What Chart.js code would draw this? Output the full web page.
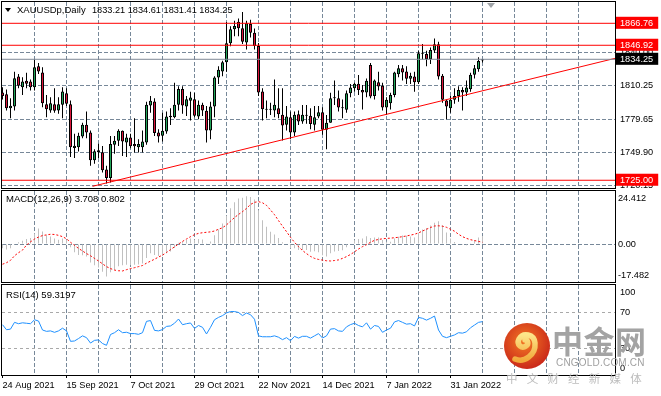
<!DOCTYPE html>
<html><head><meta charset="utf-8"><title>XAUUSDp Daily</title>
<script src="https://cdn.jsdelivr.net/npm/chart.js@4.4.1/dist/chart.umd.min.js"></script>
<style>
html,body{margin:0;padding:0;background:#fff}
#wrap{position:relative;width:661px;height:396px;overflow:hidden;background:#fff;font-family:"Liberation Sans",Arial,sans-serif}
canvas{position:absolute;left:0}
.lbl{position:absolute;white-space:nowrap;color:#000;font-size:9.5px;line-height:12px}
.wm{position:absolute;white-space:nowrap;font-family:"Noto Sans CJK SC","Liberation Sans",sans-serif}
</style></head><body><div id="wrap">
<canvas id="cMain" width="661" height="190" style="top:0"></canvas>
<canvas id="cMacd" width="661" height="95" style="top:189px"></canvas>
<canvas id="cRsi" width="661" height="114" style="top:282px"></canvas>
<div style="position:absolute;left:5px;top:8px;width:0;height:0;border-left:3px solid transparent;border-right:3px solid transparent;border-top:4px solid #000"></div>
<div class="lbl" style="left:17px;top:4px">XAUUSDp,Daily</div>
<div class="lbl" id="ohlcTxt" style="left:92px;top:4px;font-size:9.2px"></div>
<div class="lbl" id="macdTxt" style="left:6px;top:193px"></div>
<div class="lbl" id="rsiTxt" style="left:6px;top:289px"></div>
<div style="position:absolute;left:487px;top:3px;width:0;height:0;border-left:4px solid transparent;border-right:4px solid transparent;border-top:5px solid #a0a4a8"></div>
<svg style="position:absolute;left:503px;top:322px" width="48" height="48" viewBox="0 0 48 48">
<defs><radialGradient id="g" cx="45%" cy="40%" r="62%"><stop offset="0" stop-color="#f47a24"/><stop offset="1" stop-color="#c92619"/></radialGradient>
<linearGradient id="yy" x1="0" y1="0" x2="0" y2="1"><stop offset="0" stop-color="#fde68a"/><stop offset="1" stop-color="#f2a93b"/></linearGradient></defs>
<circle cx="24" cy="24" r="23" fill="url(#g)"/>
<path d="M12 37 C 21 41, 33 33, 32 21 C 31 12, 20 10, 16 17 C 13 23, 19 27, 23 24 C 26 22, 25 18, 22 18" fill="none" stroke="url(#yy)" stroke-width="5.5" stroke-linecap="round"/>
</svg>
<div class="wm" style="left:552px;top:322px;font-size:31px;line-height:36px;font-weight:bold;color:#a3a3a3;letter-spacing:0.5px">中金网</div>
<div class="wm" style="left:556px;top:357px;font-size:10px;line-height:12px;color:#a0a0a0;font-family:'Liberation Sans',Arial,sans-serif;letter-spacing:0.2px">CNGOLD.COM.CN</div>
<div class="wm" style="left:506px;top:371px;font-size:11.5px;line-height:14px;color:#bdbdbd;letter-spacing:9.2px">中文财经新媒体</div>
</div>
<script>
// ---------- DATA ----------
const dates = ['2021-08-24','2021-08-25','2021-08-26','2021-08-27','2021-08-30','2021-08-31',
'2021-09-01','2021-09-02','2021-09-03','2021-09-06','2021-09-07','2021-09-08','2021-09-09','2021-09-10','2021-09-13','2021-09-14','2021-09-15','2021-09-16','2021-09-17','2021-09-20','2021-09-21','2021-09-22','2021-09-23','2021-09-24','2021-09-27','2021-09-28','2021-09-29','2021-09-30',
'2021-10-01','2021-10-04','2021-10-05','2021-10-06','2021-10-07','2021-10-08','2021-10-11','2021-10-12','2021-10-13','2021-10-14','2021-10-15','2021-10-18','2021-10-19','2021-10-20','2021-10-21','2021-10-22','2021-10-25','2021-10-26','2021-10-27','2021-10-28','2021-10-29',
'2021-11-01','2021-11-02','2021-11-03','2021-11-04','2021-11-05','2021-11-08','2021-11-09','2021-11-10','2021-11-11','2021-11-12','2021-11-15','2021-11-16','2021-11-17','2021-11-18','2021-11-19','2021-11-22','2021-11-23','2021-11-24','2021-11-25','2021-11-26','2021-11-29','2021-11-30',
'2021-12-01','2021-12-02','2021-12-03','2021-12-06','2021-12-07','2021-12-08','2021-12-09','2021-12-10','2021-12-13','2021-12-14','2021-12-15','2021-12-16','2021-12-17','2021-12-20','2021-12-21','2021-12-22','2021-12-23','2021-12-27','2021-12-28','2021-12-29','2021-12-30',
'2022-01-03','2022-01-04','2022-01-05','2022-01-06','2022-01-07','2022-01-10','2022-01-11','2022-01-12','2022-01-13','2022-01-14','2022-01-17','2022-01-18','2022-01-19','2022-01-20','2022-01-21','2022-01-24','2022-01-25','2022-01-26','2022-01-27','2022-01-28','2022-01-31',
'2022-02-01','2022-02-02','2022-02-03','2022-02-04','2022-02-07','2022-02-08','2022-02-09','2022-02-10'];

const open = [1804.2,1802.7,1790.1,1791.6,1818.7,1809.0,1814.8,1814.2,1809.0,1828.0,
1822.3,1793.7,1788.0,1793.7,1788.0,1793.1,1803.6,1793.7,1754.1,1754.7,
1764.6,1775.1,1768.2,1743.0,1750.2,1750.2,1734.6,1727.1,1757.1,1760.7,
1769.7,1759.2,1763.7,1757.7,1754.7,1754.7,1759.2,1792.5,1796.1,1768.2,
1765.2,1769.1,1782.0,1782.0,1793.1,1807.5,1791.6,1796.7,1798.2,1782.6,
1793.1,1787.7,1770.0,1791.6,1817.8,1823.2,1831.6,1848.7,1861.3,1868.2,
1862.2,1849.5,1866.1,1858.3,1846.3,1805.1,1788.6,1788.6,1788.0,1790.1,
1784.1,1775.1,1782.0,1768.2,1784.7,1778.1,1783.5,1783.2,1775.1,1782.6,
1786.5,1770.6,1776.9,1799.1,1799.1,1790.1,1788.6,1803.6,1808.1,1812.1,
1806.6,1804.2,1829.2,1801.2,1813.6,1810.3,1790.7,1794.6,1802.1,1820.8,
1826.2,1823.2,1816.6,1818.7,1813.6,1839.7,1839.1,1834.3,1842.1,1847.8,
1819.3,1797.0,1790.1,1797.6,1801.2,1806.6,1804.2,1807.2,1820.2,1825.3,1833.21];
const high = [1809,1807,1799,1823,1821,1818,1822,1816,1834,1831,
1827,1802,1800,1808,1800,1809,1808,1797,1767,1768,
1777,1787,1770,1753,1758,1756,1738,1765,1765,1771,
1770,1767,1767,1781,1762,1770,1796,1801,1799,1771,
1786,1787,1790,1813,1810,1810,1801,1805,1804,1797,
1795,1792,1796,1819,1828,1833,1868,1864,1869,1871,
1877,1869,1870,1862,1849,1808,1797,1795,1816,1808,
1808,1792,1787,1787,1788,1793,1793,1790,1792,1792,
1791,1784,1804,1815,1806,1798,1806,1812,1813,1820,
1811,1817,1831,1816,1823,1813,1800,1804,1823,1829,
1829,1828,1822,1823,1842,1848,1842,1845,1853,1850,
1821,1798,1801,1808,1810,1809,1815,1822,1829,1836,1834.61];
const low = [1798,1788,1781,1788,1808,1802,1808,1806,1806,1821,
1791,1782,1786,1786,1785,1781,1792,1746,1745,1751,
1763,1763,1738,1740,1745,1732,1722,1723,1749,1756,
1747,1746,1754,1750,1750,1750,1757,1786,1765,1759,
1760,1767,1775,1781,1788,1785,1783,1779,1782,1780,
1783,1759,1762,1782,1812,1819,1823,1846,1855,1855,
1848,1843,1854,1843,1801,1779,1781,1784,1782,1781,
1761,1770,1762,1765,1775,1776,1776,1771,1770,1781,
1766,1753,1777,1793,1787,1781,1786,1800,1805,1802,
1789,1800,1799,1798,1806,1788,1784,1789,1800,1818,
1815,1812,1812,1805,1812,1834,1828,1830,1840,1816,
1795,1780,1786,1794,1796,1788,1801,1805,1817,1823,1831.41];
const close = [1801.2,1790.1,1792.2,1817.2,1810.3,1814.2,1812.1,1809.0,1827.1,1823.2,
1794.6,1789.2,1794.6,1787.7,1793.7,1805.1,1794.0,1754.7,1756.2,1765.2,
1775.1,1768.2,1743.0,1751.1,1752.0,1734.0,1727.1,1757.7,1760.7,1769.7,
1760.1,1763.7,1755.6,1755.6,1757.7,1760.1,1793.1,1796.7,1767.6,1764.6,
1769.7,1782.6,1783.2,1793.1,1807.5,1792.5,1798.2,1799.7,1783.2,1793.1,
1788.0,1770.0,1791.6,1817.8,1824.7,1831.6,1848.7,1861.3,1864.3,1862.2,
1850.1,1866.7,1858.3,1846.3,1804.2,1789.2,1788.9,1788.9,1793.1,1784.7,
1774.5,1782.6,1768.2,1784.1,1778.1,1784.1,1783.2,1775.7,1782.0,1786.5,
1770.6,1776.9,1799.1,1799.4,1790.7,1790.4,1803.6,1808.7,1812.1,1806.6,
1804.2,1814.8,1800.6,1815.1,1809.7,1790.7,1797.6,1802.1,1822.3,1826.2,
1822.3,1816.6,1819.3,1813.6,1839.7,1839.2,1834.3,1842.7,1847.8,1818.7,
1797.6,1791.6,1797.6,1801.2,1806.6,1804.2,1808.7,1820.2,1826.2,1832.8,1834.25];

const macdMain = [-2.0,-2.5,-2.0,-0.5,0.8,1.5,2.3,2.8,4.8,7.2,
5.8,4.0,3.5,2.5,2.0,2.6,2.0,-1.5,-3.8,-5.0,
-5.2,-5.8,-8.5,-9.8,-10.8,-12.8,-15.0,-13.0,-11.8,-10.2,
-9.8,-9.5,-9.6,-9.5,-9.4,-9.0,-6.4,-4.2,-5.0,-5.5,
-5.4,-4.3,-3.4,-1.8,0.6,1.0,1.8,2.5,2.0,2.3,
2.1,0.4,1.2,4.0,6.7,9.5,13.0,16.5,19.2,21.0,
21.3,22.0,21.7,20.5,15.5,11.0,8.0,5.7,4.4,2.8,
0.8,-0.2,-2.0,-1.9,-2.7,-2.8,-2.8,-3.5,-3.3,-3.8,
-5.2,-5.8,-4.3,-3.4,-3.2,-2.9,-1.5,0.2,1.7,2.3,
2.5,3.6,2.8,3.0,3.0,1.8,1.1,1.0,2.5,3.3,
3.9,3.8,3.5,3.0,5.2,6.7,7.4,8.5,9.8,10.5,
8.6,5.3,2.5,0.9,0.0,-0.5,-0.6,0.4,1.7,3.0,3.708];
const macdSignal = [-9.3,-8.6,-7.5,-5.4,-4.0,-2.8,-0.5,1.0,2.3,3.2,
3.9,4.2,4.5,4.4,4.0,3.4,2.4,0.8,-0.6,-2.0,
-3.2,-4.4,-5.4,-6.6,-7.8,-9.1,-10.4,-11.3,-12.0,-12.3,
-12.4,-11.8,-11.3,-10.9,-10.4,-9.9,-8.8,-7.9,-7.0,-6.0,
-5.1,-3.9,-2.6,-1.3,0.0,1.2,2.3,3.4,4.3,4.9,
5.2,5.4,5.6,6.0,6.8,7.5,8.8,10.5,12.2,13.6,
14.9,16.4,18.2,19.2,19.5,19.0,17.8,15.7,13.5,10.8,
8.2,5.7,3.1,0.8,-1.2,-3.0,-4.4,-5.7,-6.6,-7.1,
-7.4,-7.7,-7.8,-7.6,-7.3,-6.6,-5.8,-4.8,-3.6,-2.3,
-1.2,-0.3,0.8,1.7,2.1,2.4,2.6,2.7,2.9,3.1,
3.4,3.7,4.1,4.5,5.1,6.0,6.8,7.6,8.3,8.4,
8.2,7.7,6.8,5.9,4.5,3.4,2.6,2.0,1.6,1.2,0.802];
const rsi14 = [55.9,50.3,51.0,58.5,57.0,58.0,57.5,57.0,61.4,60.0,
50.0,48.5,49.0,47.4,49.0,52.0,49.0,37.4,37.8,40.5,
43.5,41.5,35.5,38.5,39.0,35.0,33.0,45.0,47.0,50.3,
47.0,47.5,46.0,46.0,45.2,47.0,59.6,60.5,49.6,49.0,
50.5,54.0,54.5,57.5,62.2,55.9,57.0,57.8,51.8,55.0,
53.0,45.6,53.0,61.4,64.0,66.0,69.0,70.5,70.5,69.5,
66.0,68.9,67.0,62.0,43.5,42.5,42.5,42.5,43.5,42.0,
39.3,41.5,38.1,42.9,41.0,43.0,43.0,41.0,43.5,46.0,
41.1,43.5,51.0,51.5,49.0,48.5,53.5,56.0,57.5,55.0,
53.5,58.0,51.0,55.0,54.0,47.4,50.0,52.0,59.0,60.5,
58.5,56.5,57.0,54.5,64.0,63.0,61.0,63.0,65.5,50.0,
43.0,41.5,43.0,44.5,47.0,46.5,48.0,52.5,55.5,58.5,59.3197];

const levelPrices = [1866.76, 1846.92, 1725.00];
const bidPrice = 1834.25;
const trendIdx = [22.5, 153.125];
const trendPrice = [1719.5, 1835.1];
const priceGrid = [1720.15, 1749.90, 1779.65, 1810.25, 1840.00];
const priceRange = [1718, 1886];
const macdRange = [-17.482, 24.412];
const macdScaleLabels = [24.412, 0, -17.482];
const rsiScaleLabels = [100, 70, 30, 0];
const rsiLevels = [70, 30];
const dateTickIdx = [0, 16, 32, 48, 64, 80, 96, 112];
const dateTickLabels = ['24 Aug 2021','15 Sep 2021','7 Oct 2021','29 Oct 2021','22 Nov 2021','14 Dec 2021','7 Jan 2022','31 Jan 2022'];

// ---------- CHARTS ----------
const N = dates.length;
const last = N - 1;
document.getElementById('ohlcTxt').textContent = [open[last], high[last], low[last], close[last]].map(v => v.toFixed(2)).join(' ');
document.getElementById('macdTxt').textContent = 'MACD(12,26,9) ' + macdMain[last].toFixed(3) + ' ' + macdSignal[last].toFixed(3);
document.getElementById('rsiTxt').textContent = 'RSI(14) ' + rsi14[last].toFixed(4);

const FONT = {family: "'Liberation Sans', Arial, sans-serif", size: 9.2};
const GRID = '#778899';
const GRID_DASH = [4, 2];
const CLEAR = 'rgba(0,0,0,0)';
const X_MIN = -0.125, X_MAX = 153.125;
const gridIdx = []; for (let k = 0; k <= 144; k += 8) gridIdx.push(k);
const noPad = s => { s.paddingTop = 0; s.paddingBottom = 0; s.paddingLeft = 0; s.paddingRight = 0; };

function xScale(showLabels) {
  return {
    type: 'linear', min: X_MIN, max: X_MAX, offset: false,
    afterBuildTicks: s => { s.ticks = gridIdx.map(v => ({value: v})); },
    afterFit: s => { s.height = showLabels ? 21 : 0; noPad(s); },
    grid: {
      offset: false, lineWidth: 1, drawTicks: showLabels, tickLength: 3,
      color: c => (c.tick && c.tick.value === 0) ? CLEAR : GRID,
      tickColor: c => (c.tick && dateTickIdx.includes(c.tick.value)) ? '#000' : CLEAR
    },
    border: {display: false, dash: GRID_DASH},
    ticks: {
      display: showLabels, autoSkip: false, maxRotation: 0, minRotation: 0, align: 'start', padding: 2,
      font: FONT, color: '#000',
      callback: v => { const k = dateTickIdx.indexOf(v); return k >= 0 ? dateTickLabels[k] : ''; }
    }
  };
}

const framePlugin = {
  id: 'frame',
  afterDraw(chart) {
    const a = chart.chartArea, ctx = chart.ctx;
    ctx.save(); ctx.strokeStyle = '#000'; ctx.lineWidth = 1;
    ctx.strokeRect(a.left - 0.5, a.top - 0.5, a.right - a.left + 1, a.bottom - a.top + 1);
    ctx.restore();
  }
};

const common = {
  responsive: false, animation: false, devicePixelRatio: 1,
  plugins: {legend: {display: false}, tooltip: {enabled: false}, title: {display: false}},
  events: []
};

// Main price chart
const bull = '#22a65a', bear = '#dc163c';
const idx = dates.map((d, i) => i);
const hline = p => [{x: X_MIN - 1, y: p}, {x: X_MAX + 1, y: p}];
const lineDs = (data, color) => ({type: 'line', data, borderColor: color, borderWidth: 1, pointRadius: 0, tension: 0, order: 0, fill: false});
const boxed = v => levelPrices.includes(v) || v === bidPrice;

new Chart(document.getElementById('cMain'), {
  type: 'bar',
  data: {datasets: [
    ...levelPrices.map(p => lineDs(hline(p), '#ff0000')),
    lineDs(hline(bidPrice), '#7d8896'),
    lineDs(trendIdx.map((x, k) => ({x, y: trendPrice[k]})), '#ff0000'),
    {type: 'bar', data: idx.map(i => ({x: i, y: [open[i], close[i]]})), backgroundColor: idx.map(i => close[i] >= open[i] ? bull : bear),
      borderColor: '#000', borderWidth: 1, borderSkipped: false, barThickness: 3, minBarLength: 1, grouped: false, inflateAmount: 0, order: 1},
    {type: 'bar', data: idx.map(i => ({x: i, y: [low[i], high[i]]})), backgroundColor: '#000', borderWidth: 0,
      barThickness: 1, grouped: false, inflateAmount: 0, order: 2}
  ]},
  options: {
    ...common,
    layout: {padding: {top: 2, bottom: 2, left: 2, right: 0}},
    scales: {
      x: xScale(false),
      y: {
        type: 'linear', position: 'right', min: priceRange[0], max: priceRange[1],
        afterBuildTicks: s => { s.ticks = [...priceGrid, 1725.00, bidPrice, 1846.92, 1866.76].map(v => ({value: v})); },
        afterFit: s => { s.width = 46; noPad(s); },
        grid: {drawTicks: false, lineWidth: 1, color: c => (c.tick && priceGrid.includes(c.tick.value)) ? GRID : CLEAR},
        border: {display: false, dash: GRID_DASH},
        ticks: {
          autoSkip: false, padding: 5, font: FONT,
          color: c => (c.tick && boxed(c.tick.value)) ? '#fff' : '#000',
          showLabelBackdrop: c => !!(c.tick && boxed(c.tick.value)),
          backdropColor: c => (c.tick && c.tick.value === bidPrice) ? '#000' : '#ff0000',
          backdropPadding: {top: 1, bottom: 0, left: 4, right: 5},
          callback: v => v.toFixed(2)
        }
      }
    }
  },
  plugins: [framePlugin]
});

// MACD chart
const macdInset = (macdRange[1] - macdRange[0]) * 7 / 91;
const macdPos = v => v === macdRange[1] ? v - macdInset : (v === macdRange[0] ? v + macdInset : v);
new Chart(document.getElementById('cMacd'), {
  type: 'bar',
  data: {datasets: [
    {type: 'line', data: idx.map(i => ({x: i, y: macdSignal[i]})), borderColor: '#ff0000', borderWidth: 1, borderDash: [2, 2], pointRadius: 0, tension: 0, order: 0},
    {type: 'bar', data: idx.map(i => ({x: i, y: macdMain[i]})), backgroundColor: '#c0c0c0', borderWidth: 0, barThickness: 1, grouped: false, inflateAmount: 0, order: 1}
  ]},
  options: {
    ...common,
    layout: {padding: {top: 2, bottom: 2, left: 2, right: 0}},
    scales: {
      x: xScale(false),
      y: {
        type: 'linear', position: 'right', min: macdRange[0], max: macdRange[1],
        afterBuildTicks: s => { s.ticks = macdScaleLabels.map(v => ({value: macdPos(v)})); },
        afterFit: s => { s.width = 46; noPad(s); },
        grid: {drawTicks: false, lineWidth: 1, color: c => (c.tick && c.tick.value === 0) ? GRID : CLEAR},
        border: {display: false, dash: GRID_DASH},
        ticks: {
          autoSkip: false, padding: 3, font: FONT, color: '#000',
          callback: (v, i) => { const t = macdScaleLabels[i]; return t === 0 ? '0.00' : t.toFixed(3); }
        }
      }
    }
  },
  plugins: [framePlugin]
});

// RSI chart
const rsiInset = 100 * 7 / 90;
const rsiPos = v => v === 100 ? v - rsiInset : (v === 0 ? v + rsiInset : v);
new Chart(document.getElementById('cRsi'), {
  type: 'line',
  data: {datasets: [
    {data: idx.map(i => ({x: i, y: rsi14[i]})), borderColor: '#1e90ff', borderWidth: 1, pointRadius: 0, tension: 0, fill: false}
  ]},
  options: {
    ...common,
    layout: {padding: {top: 3, bottom: 0, left: 2, right: 0}},
    scales: {
      x: xScale(true),
      y: {
        type: 'linear', position: 'right', min: 0, max: 100,
        afterBuildTicks: s => { s.ticks = rsiScaleLabels.map(v => ({value: rsiPos(v)})); },
        afterFit: s => { s.width = 46; noPad(s); },
        grid: {drawTicks: false, lineWidth: 1, color: c => (c.tick && rsiLevels.includes(c.tick.value)) ? '#a9a9a9' : CLEAR},
        border: {display: false, dash: [3, 3]},
        ticks: {
          autoSkip: false, padding: 5, font: FONT, color: '#000',
          callback: (v, i) => String(rsiScaleLabels[i])
        }
      }
    }
  },
  plugins: [framePlugin]
});
</script>
</body></html>
